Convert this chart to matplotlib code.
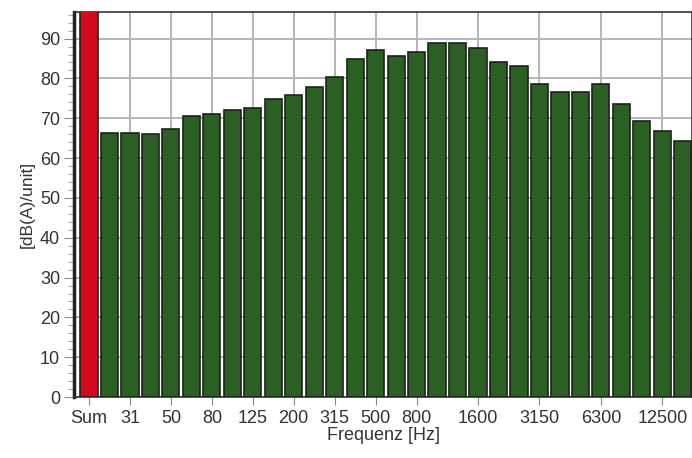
import numpy as np
import matplotlib.pyplot as plt
from matplotlib.ticker import MultipleLocator

plt.rcParams['font.family'] = ['Liberation Sans', 'DejaVu Sans']

# Terzbaender 25 Hz .. 16 kHz, plus Summenpegel
bands = ['25', '31', '40', '50', '63', '80', '100', '125', '160', '200',
         '250', '315', '400', '500', '630', '800', '1000', '1250', '1600',
         '2000', '2500', '3150', '4000', '5000', '6300', '8000', '10000',
         '12500', '16000']
levels = [66.3, 66.3, 66.1, 67.3, 70.6, 71.1, 72.1, 72.6, 74.8, 75.8,
          77.9, 80.3, 85.0, 87.1, 85.6, 86.6, 88.9, 88.9, 87.6, 84.1,
          83.0, 78.6, 76.7, 76.7, 78.6, 73.7, 69.2, 66.9, 64.3]
sum_level = 98.0
shown = ['31', '50', '80', '125', '200', '315', '500', '800', '1600',
         '3150', '6300', '12500']

labels = ['Sum'] + bands
values = [sum_level] + levels
x = np.arange(len(labels))
colors = ['#d10a1e'] + ['#2b5f24'] * len(bands)

fig = plt.figure(figsize=(6.92, 4.58), dpi=100)
ax = fig.add_axes([0.107, 0.133, 0.893, 0.841])

ax.bar(x, values, width=0.84, color=colors, edgecolor='#1c241a',
       linewidth=1.2, zorder=3)

tick_pos = [0] + [labels.index(s) for s in shown]
ax.set_xticks(tick_pos)
ax.set_xticklabels([labels[i] for i in tick_pos], fontsize=13, color='#333333')
ax.set_xlim(-0.73, 29.45)
ax.set_ylim(0, 96.7)
ax.yaxis.set_major_locator(MultipleLocator(10))
ax.yaxis.set_minor_locator(MultipleLocator(2))
ax.tick_params(axis='y', labelsize=13, labelcolor='#333333', length=7,
               color='#888888', pad=3)
ax.tick_params(axis='y', which='minor', length=4, color='#999999')
ax.tick_params(axis='x', length=6, color='#888888', pad=3)

ax.grid(True, which='major', color='#b4b4bc', linewidth=1.4, zorder=0)
ax.set_axisbelow(True)

for side in ['top', 'right', 'bottom']:
    ax.spines[side].set_color('#333333')
    ax.spines[side].set_linewidth(1.2)
ax.spines['left'].set_color('#222222')
ax.spines['left'].set_linewidth(2.5)

ax.set_ylabel('[dB(A)/unit]', fontsize=12.5, color='#333333', labelpad=4)
ax.set_xlabel('Frequenz [Hz]', fontsize=13, color='#333333', labelpad=0)

fig.savefig('out.png', dpi=100)
